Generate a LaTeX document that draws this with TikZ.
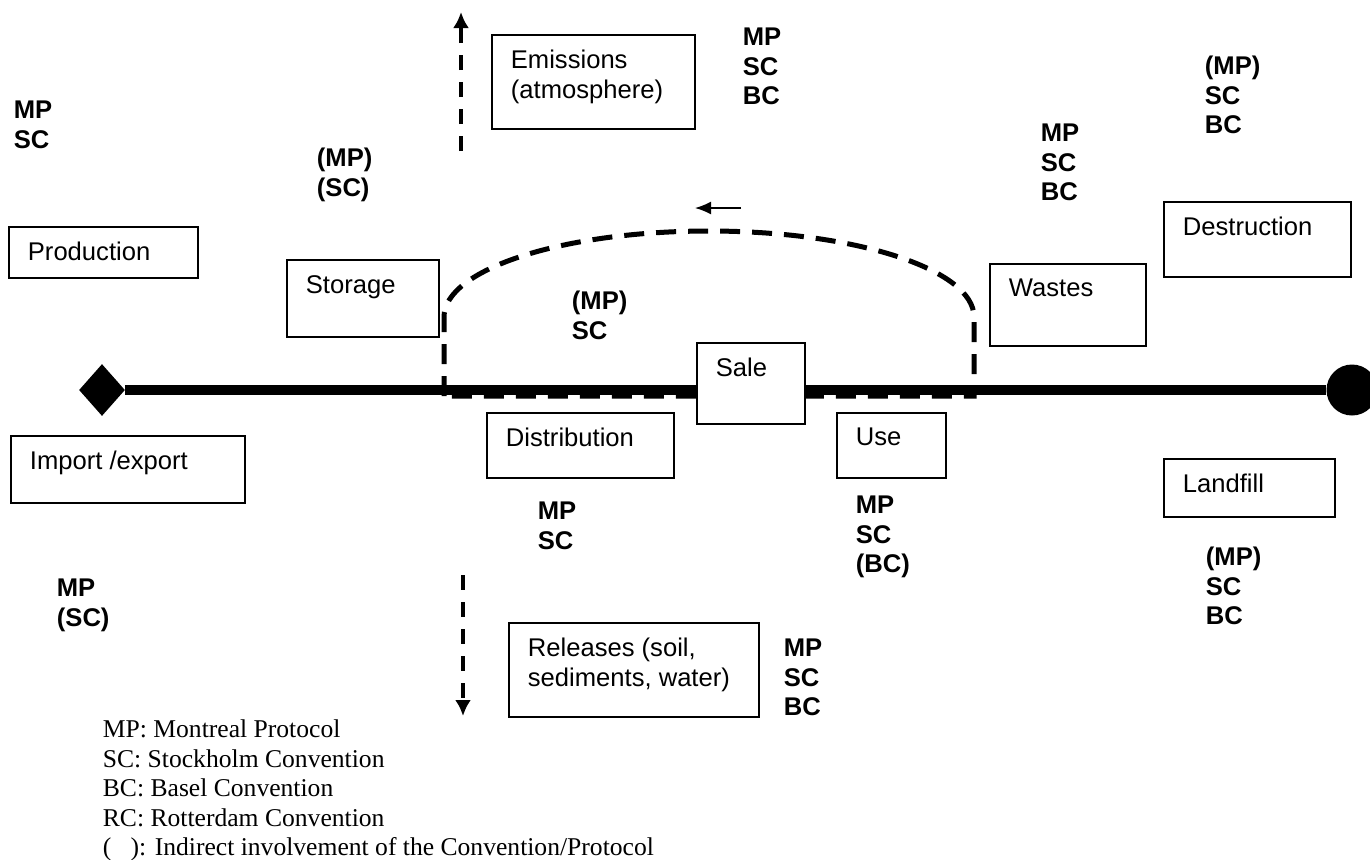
\documentclass[tikz,border=0pt]{standalone}
\usepackage{fontspec}
\setmainfont{Liberation Sans}
\newfontfamily\legendfont{Liberation Serif}
\newcommand\diagfont{\fontsize{12.8pt}{14.75pt}\selectfont}
\usetikzlibrary{shapes.geometric,arrows.meta}
\tikzstyle{box} = [rectangle, draw, line width=0.8pt, fill=white, anchor=north west, inner sep=0pt]
\tikzstyle{boxtext} = [anchor=north west, inner sep=0pt, align=left, xshift=9.75pt, yshift=-7.9pt]
\tikzstyle{conv} = [anchor=north west, inner sep=0pt, align=left, font=\diagfont\bfseries]
\tikzstyle{mainline} = [draw, line width=5pt]
\tikzstyle{cycleline} = [draw, line width=2.5pt, dash pattern=on 10pt off 6pt]
\tikzstyle{leak} = [draw, line width=2pt, dash pattern=on 7.5pt off 6pt, -{Latex[length=8pt,width=8pt]}]
\tikzstyle{back} = [draw, line width=0.8pt, -{Latex[length=8pt,width=6.5pt]}]

\begin{document}
\begin{tikzpicture}[x=0.5pt, y=-0.5pt, font=\diagfont]
  \useasboundingbox (0,0) rectangle (1370,859);
  \node [diamond, fill, inner sep=0pt, minimum width=23pt, minimum height=26pt] (import_end) at (102,390) {};
  \node [circle, fill, inner sep=0pt, minimum size=25.5pt] (disposal_end) at (1352,390) {};
  \coordinate (loop_start) at (444,396);
  \coordinate (loop_top) at (709,231);
  \coordinate (loop_end) at (974,396);
  \path [cycleline] (loop_start) -- (444,317) .. controls (444,269.5) and (562.6,231) .. (loop_top)
    .. controls (855.4,231) and (974,269.5) .. (974,317) -- (loop_end) -- cycle;
  \path [mainline] (import_end) -- (disposal_end);

  \node [box, minimum width=94.5pt, minimum height=25.5pt, label={[boxtext]north west:Production}] (production) at (8,226) {};
  \node [box, minimum width=76pt, minimum height=38.5pt, label={[boxtext]north west:Storage}] (storage) at (286,259) {};
  \node [box, minimum width=101.5pt, minimum height=47pt, label={[boxtext]north west:{Emissions\\(atmosphere)}}] (emissions) at (491,34) {};
  \node [box, minimum width=93.5pt, minimum height=37.5pt, label={[boxtext]north west:Destruction}] (destruction) at (1163,201) {};
  \node [box, minimum width=78pt, minimum height=41pt, label={[boxtext]north west:Wastes}] (wastes) at (989,263) {};
  \node [box, minimum width=54pt, minimum height=40.5pt, label={[boxtext]north west:Sale}] (sale) at (696,342) {};
  \node [box, minimum width=93.5pt, minimum height=32.5pt, label={[boxtext]north west:Distribution}] (distribution) at (486,412) {};
  \node [box, minimum width=54.5pt, minimum height=32.5pt, label={[boxtext]north west:Use}] (use) at (836,412) {};
  \node [box, minimum width=117pt, minimum height=33.5pt, label={[boxtext]north west:Import /export}] (import_export) at (10,435) {};
  \node [box, minimum width=85.5pt, minimum height=29pt, label={[boxtext]north west:Landfill}] (landfill) at (1163,458) {};
  \node [box, minimum width=125pt, minimum height=47pt, label={[boxtext]north west:{Releases (soil,\\sediments, water)}}] (releases) at (508,622) {};

  \node [conv] (conv_production) at (13.5,100.8) {MP\\SC};
  \node [conv] (conv_storage) at (316.5,147.8) {(MP)\\(SC)};
  \node [conv] (conv_emissions) at (742.5,27.8) {MP\\SC\\BC};
  \node [conv] (conv_destruction) at (1204.5,55.8) {(MP)\\SC\\BC};
  \node [conv] (conv_wastes) at (1040.5,123.8) {MP\\SC\\BC};
  \node [conv] (conv_sale) at (571.5,290.8) {(MP)\\SC};
  \node [conv] (conv_distribution) at (537.5,501.8) {MP\\SC};
  \node [conv] (conv_import) at (56.5,578.8) {MP\\(SC)};
  \node [conv] (conv_use) at (855.5,495.8) {MP\\SC\\(BC)};
  \node [conv] (conv_landfill) at (1205.5,546.8) {(MP)\\SC\\BC};
  \node [conv] (conv_releases) at (783.5,638.8) {MP\\SC\\BC};

  \coordinate (up_from) at (461,151);
  \coordinate (up_to) at (461,12);
  \coordinate (down_from) at (463,575);
  \coordinate (down_to) at (463,716);
  \coordinate (back_from) at (741,208);
  \coordinate (back_to) at (695,208);
  \path [leak] (up_from) -- (up_to);
  \path [leak] (down_from) -- (down_to);
  \path [back] (back_from) -- (back_to);

  \node [anchor=north west, inner sep=0pt, align=left, font=\legendfont\diagfont] (legend) at (102.5,719.5)
    {MP: Montreal Protocol\\SC: Stockholm Convention\\BC: Basel Convention\\RC: Rotterdam Convention\\(\ \ \ ): Indirect involvement of the Convention/Protocol};
\end{tikzpicture}
\end{document}
